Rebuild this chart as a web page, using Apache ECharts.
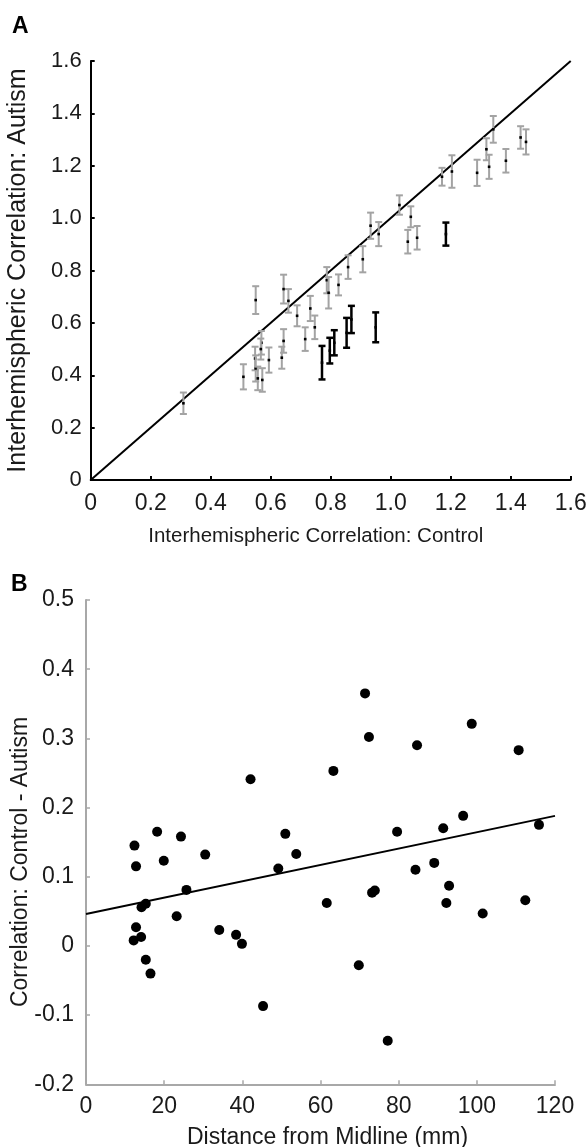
<!DOCTYPE html>
<html>
<head>
<meta charset="utf-8">
<script src="https://cdn.jsdelivr.net/npm/echarts@6/dist/echarts.min.js"></script>
<style>
html,body{margin:0;padding:0;background:#fff;}
#chart{width:587px;height:1147px;}
</style>
</head>
<body>
<div id="chart"></div>
<script>
// ---------- Panel A data ----------
const ctrlGray = [0.309,0.509,0.550,0.548,0.550,0.557,0.569,0.567,0.572,0.594,0.643,0.659,0.643,0.637,0.688,0.732,0.747,0.715,0.787,0.793,0.826,0.858,0.907,0.933,0.960,1.029,1.067,1.057,1.088,1.171,1.204,1.288,1.319,1.328,1.342,1.384,1.433,1.451];
const autGray  = [0.293,0.394,0.687,0.464,0.426,0.388,0.524,0.500,0.382,0.458,0.729,0.684,0.531,0.467,0.627,0.655,0.583,0.538,0.763,0.715,0.745,0.813,0.843,0.971,0.939,1.050,1.005,0.910,0.925,1.158,1.178,1.173,1.263,1.196,1.339,1.219,1.308,1.291];
const errGray  = [0.041,0.048,0.053,0.045,0.050,0.045,0.045,0.040,0.045,0.048,0.055,0.045,0.045,0.042,0.040,0.048,0.045,0.045,0.050,0.060,0.040,0.045,0.050,0.050,0.046,0.037,0.040,0.045,0.045,0.034,0.062,0.050,0.042,0.046,0.051,0.045,0.043,0.048];
const ctrlSig = [0.771,0.797,0.812,0.853,0.869,0.950,1.184];
const autSig  = [0.448,0.494,0.524,0.562,0.613,0.583,0.939];
const errSig  = [0.064,0.049,0.048,0.057,0.052,0.057,0.044];
const identityLine = [[0,0],[1.6,1.6]];

// ---------- Panel B data ----------
const distance = [12.2,12.4,12.8,12.8,14.1,14.2,15.3,15.3,16.5,18.2,19.9,23.2,24.3,25.7,30.5,34.1,38.4,39.9,42.1,45.3,49.2,51.0,53.8,61.6,63.3,69.8,71.4,72.4,73.2,73.9,77.2,79.6,84.3,84.7,89.1,91.4,92.2,92.9,96.5,98.7,101.5,110.7,112.4,115.9];
const corrDiff = [0.008,0.145,0.115,0.027,0.013,0.056,0.061,-0.020,-0.040,0.165,0.123,0.043,0.158,0.081,0.132,0.023,0.016,0.003,0.241,-0.087,0.112,0.162,0.133,0.062,0.253,-0.028,0.365,0.302,0.077,0.080,-0.137,0.165,0.110,0.290,0.120,0.170,0.062,0.087,0.188,0.321,0.047,0.283,0.066,0.175];
const fitLine = [[0,0.046],[120,0.188]];

const FONT = '"Liberation Sans", Arial, Helvetica, sans-serif';

function errBarRenderer(color, lw) {
  return function (params, api) {
    const x = api.value(0), y = api.value(1), e = api.value(2);
    const t = api.coord([x, y + e]);
    const b = api.coord([x, y - e]);
    const c = api.coord([x, y]);
    const hw = 3.5;
    return {
      type: 'group',
      children: [
        {type:'line', shape:{x1:t[0],y1:t[1],x2:b[0],y2:b[1]}, style:{stroke:color,lineWidth:lw}},
        {type:'line', shape:{x1:t[0]-hw,y1:t[1],x2:t[0]+hw,y2:t[1]}, style:{stroke:color,lineWidth:lw}},
        {type:'line', shape:{x1:b[0]-hw,y1:b[1],x2:b[0]+hw,y2:b[1]}, style:{stroke:color,lineWidth:lw}},
        {type:'rect', shape:{x:c[0]-1.3,y:c[1]-1.3,width:2.6,height:2.6}, style:{fill:'#000'}}
      ]
    };
  };
}

function fmt(v) {
  if (Math.abs(v) < 1e-9) return '0';
  return (Math.round(v * 10) / 10).toFixed(1);
}
function fmtInt(v){ return String(Math.round(v)); }

const chart = echarts.init(document.getElementById('chart'), null, {renderer:'canvas'});

const axisA = {
  axisLine:{show:true, onZero:false, lineStyle:{color:'#000', width:2}},
  axisTick:{show:true, inside:true, length:4, lineStyle:{color:'#000', width:2}},
  splitLine:{show:false},
  axisLabel:{color:'#1a1a1a', fontFamily:FONT, fontSize:22, formatter:fmt}
};
const axisB = {
  axisLine:{show:true, onZero:false, lineStyle:{color:'#a8a8a8', width:2}},
  axisTick:{show:true, inside:true, length:4, lineStyle:{color:'#a8a8a8', width:1.5}},
  splitLine:{show:false}
};

const option = {
  animation:false,
  backgroundColor:'#fff',
  graphic:[
    {type:'text', left:12, top:15, style:{text:'A', font:'bold 23px ' + FONT, fill:'#000'}},
    {type:'text', left:11, top:573, style:{text:'B', font:'bold 23px ' + FONT, fill:'#000'}},
    {type:'text', x:21, y:862, rotation:Math.PI/2,
     style:{text:'Correlation: Control - Autism', font:'23px ' + FONT, fill:'#1a1a1a', align:'center', verticalAlign:'middle'}}
  ],
  grid:[
    {left:90.7, top:61, width:480, height:419, outerBoundsMode:'none', containLabel:false},
    {left:86, top:600, width:469, height:484.3, outerBoundsMode:'none', containLabel:false}
  ],
  xAxis:[
    Object.assign({}, axisA, {
      gridIndex:0, type:'value', min:0, max:1.6, interval:0.2,
      axisLabel:Object.assign({}, axisA.axisLabel, {margin:12, fontSize:23}),
      name:'Interhemispheric Correlation: Control', nameLocation:'middle', nameGap:46,
      nameTextStyle:{color:'#1a1a1a', fontFamily:FONT, fontSize:20.5, padding:[0,30,0,0]}
    }),
    Object.assign({}, axisB, {
      gridIndex:1, type:'value', min:0, max:120, interval:20,
      axisLabel:{color:'#1a1a1a', fontFamily:FONT, fontSize:23, margin:11, formatter:fmtInt},
      name:'Distance from Midline (mm)', nameLocation:'middle', nameGap:42,
      nameTextStyle:{color:'#1a1a1a', fontFamily:FONT, fontSize:23, padding:[0,0,0,14]}
    })
  ],
  yAxis:[
    Object.assign({}, axisA, {
      gridIndex:0, type:'value', min:0, max:1.6, interval:0.2,
      axisLabel:Object.assign({}, axisA.axisLabel, {margin:9}),
      name:'Interhemispheric Correlation: Autism', nameLocation:'middle', nameGap:60,
      nameTextStyle:{color:'#1a1a1a', fontFamily:FONT, fontSize:25}
    }),
    Object.assign({}, axisB, {
      gridIndex:1, type:'value', min:-0.2, max:0.5, interval:0.1,
      axisLabel:{color:'#1a1a1a', fontFamily:FONT, fontSize:23, margin:12, formatter:fmt}
    })
  ],
  series:[
    {
      type:'line', xAxisIndex:0, yAxisIndex:0, data:identityLine,
      showSymbol:false, symbol:'none', lineStyle:{color:'#000', width:2}, z:1
    },
    {
      type:'custom', xAxisIndex:0, yAxisIndex:0,
      renderItem: errBarRenderer('#a3a3a3', 2),
      encode:{x:0, y:1},
      data: ctrlGray.map((c,i)=>[c, autGray[i], errGray[i]]), z:2
    },
    {
      type:'custom', xAxisIndex:0, yAxisIndex:0,
      renderItem: errBarRenderer('#000', 2.5),
      encode:{x:0, y:1},
      data: ctrlSig.map((c,i)=>[c, autSig[i], errSig[i]]), z:3
    },
    {
      type:'scatter', xAxisIndex:1, yAxisIndex:1,
      data: distance.map((d,i)=>[d, corrDiff[i]]),
      symbol:'circle', symbolSize:10, itemStyle:{color:'#000', opacity:1}, z:3
    },
    {
      type:'line', xAxisIndex:1, yAxisIndex:1, data:fitLine,
      showSymbol:false, symbol:'none', lineStyle:{color:'#000', width:2}, z:2
    }
  ]
};
chart.setOption(option);
</script>
</body>
</html>
